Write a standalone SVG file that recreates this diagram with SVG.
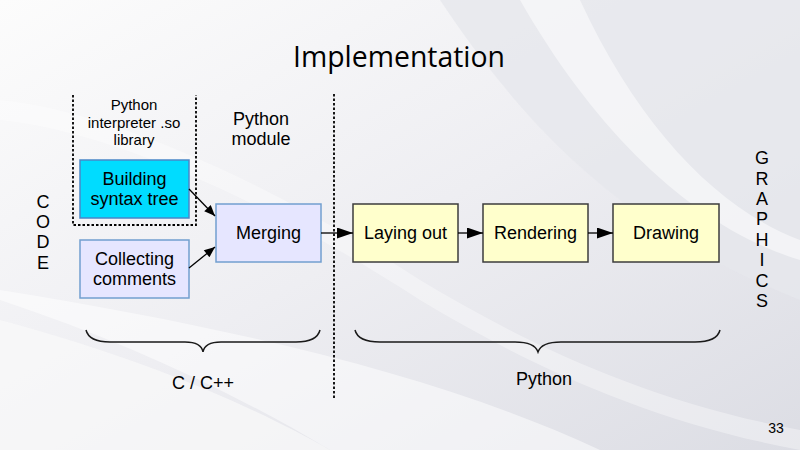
<svg xmlns="http://www.w3.org/2000/svg" width="800" height="450" viewBox="0 0 800 450">
<defs>
<linearGradient id="bg" x1="0" y1="0" x2="1" y2="1">
<stop offset="0" stop-color="#fcfcfc"/>
<stop offset="0.5" stop-color="#eeeef2"/>
<stop offset="1" stop-color="#dcdde4"/>
</linearGradient>
<marker id="ah" viewBox="0 0 12 10" refX="12" refY="5" markerWidth="12" markerHeight="9" markerUnits="userSpaceOnUse" orient="auto">
<path d="M0,0 L12,5 L0,10 Z" fill="#000"/>
</marker>
<marker id="ahb" viewBox="0 0 16 11" refX="16" refY="5.5" markerWidth="16" markerHeight="11" markerUnits="userSpaceOnUse" orient="auto">
<path d="M0,0 L16,5.5 L0,11 Z" fill="#000"/>
</marker>
</defs>
<style>
text{font-family:"Liberation Sans",Arial,sans-serif;fill:#000}
.t18{font-size:18px;text-anchor:middle}
.t15{font-size:15px;text-anchor:middle}
.blue{fill:#e6e6ff;stroke:#729fcf;stroke-width:1.5}
.cyan{fill:#00dcff;stroke:#4a86c8;stroke-width:1.5}
.yel{fill:#ffffcc;stroke:#3c3c3c;stroke-width:1.5}
.dash{fill:none;stroke:#000;stroke-width:1.8;stroke-dasharray:2.5 2}
.conn{fill:none;stroke:#000;stroke-width:1.3}
.brace{fill:none;stroke:#1a1a1a;stroke-width:1.5}
</style>
<g id="background">
<rect width="800" height="450" fill="url(#bg)"/>
<path d="M440,0 C520,120 620,230 800,300 L800,0 Z" fill="#e6e7ec" opacity="0.8"/>
<path d="M520,0 C600,140 700,230 800,260 L800,240 C720,210 640,130 580,0 Z" fill="#ffffff" opacity="0.5"/>
<path d="M0,300 C120,340 230,390 330,450 L600,450 C450,380 250,330 0,290 Z" fill="#ffffff" opacity="0.5"/>
<path d="M0,320 C150,360 260,410 330,450 L0,450 Z" fill="#fafafa" opacity="0.7"/>
<path d="M0,100 C100,110 250,170 420,280 C520,340 640,400 800,430 L800,450 C640,420 520,360 420,300 C250,190 100,130 0,120 Z" fill="#ffffff" opacity="0.35"/>
</g>
<g id="title">
<text x="399" y="67" style="font-family:'Open Sans','DejaVu Sans',sans-serif;font-size:30px;text-anchor:middle" textLength="212" lengthAdjust="spacingAndGlyphs">Implementation</text>
</g>
<g id="code-label">
<text class="t18" x="43" y="208">C</text>
<text class="t18" x="43" y="228">O</text>
<text class="t18" x="43" y="248">D</text>
<text class="t18" x="43" y="269">E</text>
</g>
<g id="graphics-label">
<text class="t18" x="762" y="164">G</text>
<text class="t18" x="762" y="185">R</text>
<text class="t18" x="762" y="205">A</text>
<text class="t18" x="762" y="225">P</text>
<text class="t18" x="762" y="246">H</text>
<text class="t18" x="762" y="266">I</text>
<text class="t18" x="762" y="287">C</text>
<text class="t18" x="762" y="307">S</text>
</g>
<g id="interpreter-group">
<path class="dash" d="M73,95 L73,225 L196,225 L196,95"/>
<text class="t15" x="134" y="110">Python</text>
<text class="t15" x="134" y="128">interpreter .so</text>
<text class="t15" x="134" y="145">library</text>
</g>
<g id="python-module-label">
<text class="t18" x="261" y="125">Python</text>
<text class="t18" x="261" y="145">module</text>
</g>
<g id="divider">
<line class="dash" x1="334" y1="94" x2="334" y2="399"/>
</g>
<g id="building">
<rect class="cyan" x="80" y="160" width="109" height="58"/>
<text class="t18" x="134.5" y="185">Building</text>
<text class="t18" x="134.5" y="205">syntax tree</text>
</g>
<g id="collecting">
<rect class="blue" x="80" y="240" width="109" height="58"/>
<text class="t18" x="134.5" y="265">Collecting</text>
<text class="t18" x="134.5" y="285">comments</text>
</g>
<g id="merging">
<rect class="blue" x="216" y="204" width="105" height="58"/>
<text class="t18" x="268.5" y="239">Merging</text>
</g>
<g id="laying-out">
<rect class="yel" x="353" y="204" width="105" height="58"/>
<text class="t18" x="405.5" y="239">Laying out</text>
</g>
<g id="rendering">
<rect class="yel" x="483" y="204" width="105" height="58"/>
<text class="t18" x="535.5" y="239">Rendering</text>
</g>
<g id="drawing">
<rect class="yel" x="613" y="204" width="106" height="58"/>
<text class="t18" x="666" y="239">Drawing</text>
</g>
<g id="connectors">
<line class="conn" x1="189" y1="189" x2="215" y2="216" marker-end="url(#ah)"/>
<line class="conn" x1="189" y1="268" x2="215" y2="247" marker-end="url(#ah)"/>
<line class="conn" x1="321" y1="233" x2="353" y2="233" marker-end="url(#ahb)"/>
<line class="conn" x1="458" y1="233" x2="483" y2="233" marker-end="url(#ahb)"/>
<line class="conn" x1="588" y1="233" x2="613" y2="233" marker-end="url(#ahb)"/>
</g>
<g id="braces">
<path class="brace" d="M86,330 C88,338 96,342 110,342 L185,342 C197,342 202,346 203,352 C204,346 209,342 221,342 L296,342 C310,342 318,338 320,330"/>
<path class="brace" d="M355,330 C357,338 365,342 380,342 L515,342 C530,342 536,346 538,352 C540,346 546,342 561,342 L695,342 C710,342 718,338 720,330"/>
<text class="t18" x="203" y="389">C / C++</text>
<text class="t18" x="544" y="385">Python</text>
</g>
<g id="page-number">
<text x="776" y="433" style="font-size:14px;text-anchor:middle">33</text>
</g>
</svg>
